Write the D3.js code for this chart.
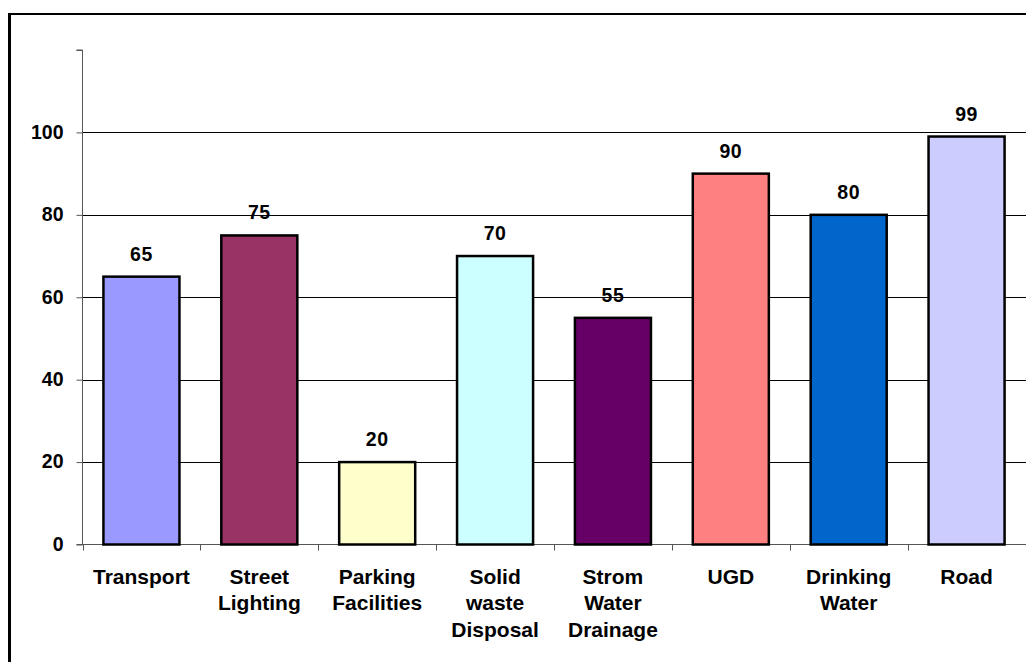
<!DOCTYPE html>
<html>
<head>
<meta charset="utf-8">
<script src="https://cdn.jsdelivr.net/npm/d3@7"></script>
<style>
  html, body { margin: 0; padding: 0; background: #fff; }
  svg { display: block; }
  text { font-family: "Liberation Sans", Arial, sans-serif; font-weight: bold; fill: #000; }
</style>
</head>
<body>
<svg id="chart" width="1026" height="662"></svg>
<script>
// Infrastructure categories (each entry is the list of label lines)
const categories = ["Transport", "Street Lighting", "Parking Facilities", "Solid waste Disposal",
                    "Strom Water Drainage", "UGD", "Drinking Water", "Road"];
const categoryLines = [["Transport"], ["Street", "Lighting"], ["Parking", "Facilities"],
                       ["Solid", "waste", "Disposal"], ["Strom", "Water", "Drainage"],
                       ["UGD"], ["Drinking", "Water"], ["Road"]];
const values = [65, 75, 20, 70, 55, 90, 80, 99];
const barColors = ["#9999FF", "#993366", "#FFFFCC", "#CCFFFF", "#660066", "#FF8080", "#0066CC", "#CCCCFF"];
const yTicks = [0, 20, 40, 60, 80, 100, 120];
const yTickLabels = ["0", "20", "40", "60", "80", "100", ""];
const gridValues = [20, 40, 60, 80, 100];

const svg = d3.select("#chart");

// Outer frame (runs off the right and bottom edges)
svg.append("line").attr("x1", 9.5).attr("x2", 9.5).attr("y1", 13).attr("y2", 662)
  .attr("stroke", "#000").attr("stroke-width", 3);
svg.append("line").attr("x1", 8).attr("x2", 1026).attr("y1", 14).attr("y2", 14)
  .attr("stroke", "#000").attr("stroke-width", 2);

const left = 82.5, right = 1025.5;
const x = d3.scaleBand().domain(categories).range([left, right])
  .paddingInner(0.355).paddingOuter(0.1775);
const y = d3.scaleLinear().domain([0, 120]).range([544.5, 50]);

// Horizontal gridlines
svg.append("g").selectAll("line").data(gridValues).join("line")
  .attr("x1", left).attr("x2", 1026)
  .attr("y1", d => Math.round(y(d)) + 0.5).attr("y2", d => Math.round(y(d)) + 0.5)
  .attr("stroke", "#000").attr("stroke-width", 1);

// Y axis
const yAxis = d3.axisLeft(y).tickValues(yTicks).tickSize(6).tickPadding(13)
  .tickFormat((d, i) => yTickLabels[i]);
const gy = svg.append("g").attr("transform", `translate(${left},0)`).call(yAxis);
gy.select(".domain").attr("stroke", "#555").attr("d", `M-6,${y(120)}H0V${y(0)}`);
gy.selectAll(".tick line").attr("stroke", "#555");
gy.selectAll(".tick text")
  .style("font-family", "'Liberation Sans', Arial, sans-serif")
  .style("font-weight", "bold").style("font-size", "19.5px")
  .attr("fill", "#000").attr("dy", "0.3em");

// X axis baseline with ticks at category boundaries
const boundaries = d3.range(categories.length + 1).map(i => left + i * x.step());
svg.append("line").attr("x1", left - 6).attr("x2", right + 1)
  .attr("y1", y(0)).attr("y2", y(0)).attr("stroke", "#555").attr("stroke-width", 1);
svg.append("g").selectAll("line").data(boundaries).join("line")
  .attr("x1", d => Math.round(d) + 0.5).attr("x2", d => Math.round(d) + 0.5)
  .attr("y1", y(0)).attr("y2", y(0) + 6)
  .attr("stroke", "#555").attr("stroke-width", 1);

// Bars
svg.append("g").selectAll("rect").data(categories).join("rect")
  .attr("x", d => x(d))
  .attr("y", (d, i) => y(values[i]))
  .attr("width", x.bandwidth())
  .attr("height", (d, i) => y(0) - y(values[i]))
  .attr("fill", (d, i) => barColors[i])
  .attr("stroke", "#000").attr("stroke-width", 2.5);

// Value labels above bars
svg.append("g").selectAll("text").data(categories).join("text")
  .attr("x", d => x(d) + x.bandwidth() / 2)
  .attr("y", (d, i) => y(values[i]) - 16)
  .attr("text-anchor", "middle")
  .style("font-size", "19.5px")
  .style("letter-spacing", "0.5px")
  .text((d, i) => values[i]);

// Category labels (multi-line)
const cat = svg.append("g").selectAll("text").data(categories).join("text")
  .attr("x", d => x(d) + x.bandwidth() / 2)
  .attr("y", 583.5)
  .attr("text-anchor", "middle")
  .style("font-size", "21px");
cat.each(function (d, i) {
  const t = d3.select(this);
  categoryLines[i].forEach((line, j) => {
    t.append("tspan").attr("x", x(d) + x.bandwidth() / 2)
      .attr("dy", j === 0 ? 0 : 26.5).text(line);
  });
});
</script>
</body>
</html>
